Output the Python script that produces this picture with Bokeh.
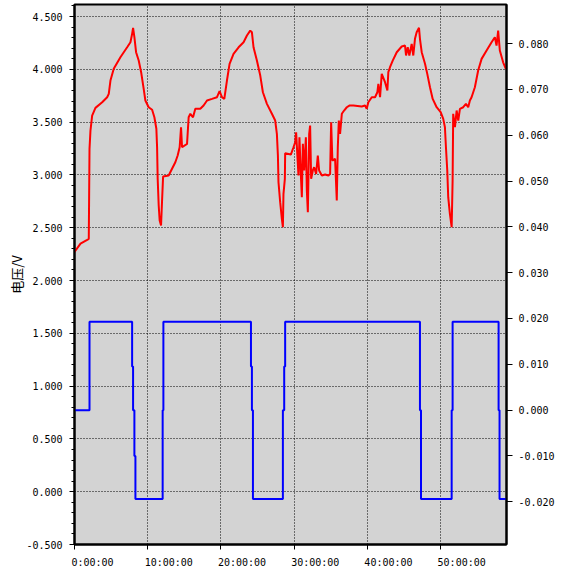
from bokeh.plotting import figure
from bokeh.models import (Range1d, LinearAxis, SingleIntervalTicker, FixedTicker,
                          NumeralTickFormatter)
from bokeh.embed import file_html
from bokeh.resources import INLINE

# ---- data (time in hours) ----
t_volt = [0.00, 0.82, 1.73, 1.95, 2.05, 2.18, 2.41, 2.86, 3.78, 4.46,
          4.68, 4.91, 5.36, 6.27, 7.19, 7.64, 7.87, 8.00, 8.18, 8.41,
          8.77, 9.10, 9.45, 9.68, 10.13, 10.60, 10.91, 11.18, 11.28, 11.36,
          11.50, 11.63, 11.82, 11.96, 12.10, 12.86, 13.32, 13.77, 14.09, 14.36,
          14.55, 14.69, 15.37, 15.59, 15.82, 16.19, 16.50, 17.18, 17.63, 18.10,
          18.78, 19.46, 19.81, 20.14, 20.46, 20.82, 21.18, 21.72, 22.41, 23.09,
          23.55, 24.00, 24.23, 24.45, 24.91, 25.37, 25.73, 26.28, 26.96, 27.41,
          27.64, 27.78, 27.86, 28.09, 28.32, 28.46, 28.54, 28.73, 28.77, 29.55,
          29.91, 30.14, 30.27, 30.45, 30.59, 30.72, 30.92, 31.05, 31.19, 31.37,
          31.60, 31.73, 31.87, 32.05, 32.18, 32.32, 32.55, 32.73, 33.00, 33.23,
          33.41, 33.78, 34.23, 34.68, 34.91, 35.05, 35.22, 35.59, 35.82, 35.96,
          36.10, 36.27, 36.51, 36.82, 37.19, 37.54, 38.09, 39.23, 39.68, 39.91,
          40.13, 40.60, 41.05, 41.36, 41.50, 41.73, 41.96, 42.41, 42.73, 42.86,
          43.09, 43.46, 44.01, 44.69, 45.14, 45.28, 45.51, 45.73, 46.05, 46.27,
          46.50, 46.73, 47.05, 47.18, 47.42, 47.87, 48.18, 48.55, 48.92, 49.46,
          50.01, 50.36, 50.59, 50.73, 50.91, 51.04, 51.27, 51.51, 51.64, 51.72,
          51.96, 52.19, 52.41, 52.64, 53.09, 53.46, 53.77, 54.00, 54.23, 54.68,
          55.13, 55.60, 56.28, 56.96, 57.41, 57.64, 57.86, 58.09, 58.54, 58.91]
volt = [2.270, 2.350, 2.385, 2.395, 3.247, 3.420, 3.562, 3.635, 3.688, 3.736,
        3.768, 3.894, 4.005, 4.115, 4.209, 4.257, 4.336, 4.393, 4.304, 4.162,
        4.083, 3.973, 3.815, 3.705, 3.641, 3.617, 3.546, 3.437, 3.262, 2.963,
        2.710, 2.568, 2.521, 2.758, 2.985, 2.994, 3.058, 3.120, 3.184, 3.262,
        3.452, 3.262, 3.294, 3.546, 3.579, 3.546, 3.626, 3.626, 3.657, 3.705,
        3.720, 3.736, 3.793, 3.736, 3.720, 3.894, 4.052, 4.147, 4.209, 4.257,
        4.320, 4.367, 4.351, 4.209, 4.083, 3.941, 3.783, 3.673, 3.579, 3.515,
        3.389, 3.184, 2.931, 2.742, 2.584, 2.505, 2.821, 2.963, 3.206, 3.193,
        3.262, 3.310, 3.404, 3.167, 2.994, 3.357, 2.994, 2.789, 3.294, 3.042,
        3.357, 2.852, 2.647, 3.389, 3.468, 2.963, 3.042, 3.073, 3.010, 3.184,
        3.042, 2.994, 3.004, 2.994, 3.010, 3.499, 3.136, 3.152, 2.758, 3.262,
        3.515, 3.389, 3.579, 3.610, 3.641, 3.657, 3.657, 3.648, 3.657, 3.626,
        3.688, 3.736, 3.736, 3.783, 3.862, 3.736, 3.957, 3.878, 3.799, 3.973,
        4.020, 4.083, 4.162, 4.216, 4.225, 4.131, 4.209, 4.131, 4.241, 4.131,
        4.289, 4.351, 4.393, 4.289, 4.162, 4.052, 3.957, 3.830, 3.720, 3.641,
        3.594, 3.531, 3.452, 3.262, 3.042, 2.789, 2.632, 2.505, 2.947, 3.579,
        3.452, 3.610, 3.515, 3.626, 3.641, 3.673, 3.641, 3.705, 3.736, 3.830,
        3.989, 4.099, 4.178, 4.257, 4.304, 4.225, 4.367, 4.178, 4.067, 4.005]

t_cur = [0.00, 2.05, 7.87, 8.00, 8.18, 8.32, 12.04, 12.14, 24.10, 24.23,
         24.37, 28.46, 28.64, 28.77, 47.18, 47.32, 51.51, 51.64, 57.92, 58.05,
         58.91]
cur = [0.0, 0.0193, 0.0095, 0.0, -0.0100, -0.0194, 0.0, 0.0193, 0.0095, 0.0,
       -0.0194, 0.0, 0.0095, 0.0193, 0.0, -0.0194, 0.0, 0.0193, 0.0, -0.0194,
       -0.0194]

x_ticks = [0, 10, 20, 30, 40, 50]
x_tick_labels = ["0:00:00", "10:00:00", "20:00:00", "30:00:00", "40:00:00", "50:00:00"]
y_label = "电压/V"

TICK_FONT = "DejaVu Sans Mono"
NBSP = "\u00a0"

p = figure(width=557, height=572, output_backend="svg", toolbar_location=None,
           x_range=Range1d(0, 59.0), y_range=Range1d(-0.5, 4.614),
           min_border_left=74, min_border_right=50, min_border_top=4,
           min_border_bottom=28, background_fill_color="#D3D3D3",
           border_fill_color="white", outline_line_color="black",
           outline_line_width=2)
p.extra_y_ranges = {"cur": Range1d(-0.02932, 0.08852)}

# x axis: labels start just left of their tick (padding with no-break spaces,
# the tick font is monospaced so centred text shifts right by half the padding)
xa = p.xaxis[0]
xa.ticker = FixedTicker(ticks=x_ticks)
xa.major_label_overrides = {t: NBSP * (len(s) - 1) + s
                            for t, s in zip(x_ticks, x_tick_labels)}
# left axis
ya = p.yaxis[0]
ya.ticker = SingleIntervalTicker(interval=0.5, num_minor_ticks=5)
ya.formatter = NumeralTickFormatter(format="0.000")
ya.axis_label = y_label
ya.axis_label_text_font = "Noto Sans CJK SC"
ya.axis_label_text_font_size = "13px"
ya.axis_label_text_font_style = "normal"
ya.axis_label_text_color = "black"
ya.axis_label_standoff = -3
ya.minor_tick_in = 0
ya.minor_tick_out = 3

# right axis
ra = LinearAxis(y_range_name="cur",
                ticker=SingleIntervalTicker(interval=0.01, num_minor_ticks=0),
                formatter=NumeralTickFormatter(format="0.000"))
p.add_layout(ra, "right")

for ax in (xa, ya, ra):
    ax.major_label_text_font = TICK_FONT
    ax.major_label_text_font_size = "10px"
    ax.major_label_text_color = "black"
    ax.axis_line_color = "black"
    ax.axis_line_width = 2
    ax.major_tick_line_color = "black"
    ax.major_tick_in = 0
    ax.major_tick_out = 5
    ax.major_label_standoff = 7
ra.major_tick_out = 6
ra.major_label_standoff = 6
ra.minor_tick_out = 0
ra.minor_tick_in = 0
xa.minor_tick_out = 0
xa.minor_tick_in = 0

for g in (p.xgrid[0], p.ygrid[0]):
    g.grid_line_color = "black"
    g.grid_line_dash = "1 2"
    g.grid_line_width = 1
    g.grid_line_alpha = 1.0

p.step(t_cur, cur, mode="after", y_range_name="cur",
       line_color="#0000FF", line_width=2)
p.line(t_volt, volt, line_color="#FF0000", line_width=2)

open("out.html", "w").write(file_html(p, INLINE))
